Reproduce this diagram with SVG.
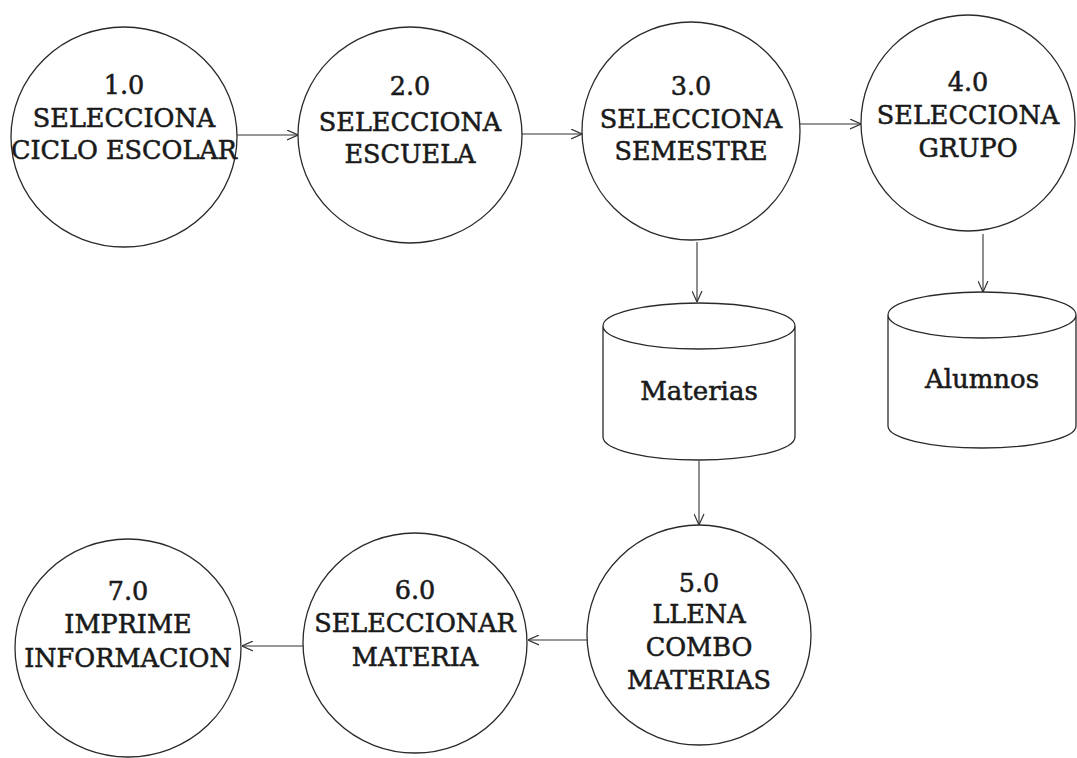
<svg xmlns="http://www.w3.org/2000/svg" width="1077" height="758" viewBox="0 0 1077 758">
<defs>
<style>
.n{fill:none;stroke:#2a2a2a;stroke-width:1.3}
.t{font-family:"DejaVu Serif","Liberation Serif",serif;font-size:25.5px;fill:#1a1a1a;stroke:#1a1a1a;stroke-width:0.55;text-anchor:middle}
.s{font-family:"DejaVu Serif","Liberation Serif",serif;font-size:26px;fill:#1a1a1a;stroke:#1a1a1a;stroke-width:0.55;text-anchor:middle}
.c{fill:none;stroke:#333;stroke-width:1.1}
</style>
<marker id="a" viewBox="0 0 10 10" refX="10" refY="5" markerWidth="11" markerHeight="11" markerUnits="userSpaceOnUse" orient="auto">
<path d="M0,0.5 L10,5 L0,9.5" fill="none" stroke="#333" stroke-width="1.1"/>
</marker>
</defs>
<rect width="1077" height="758" fill="#ffffff"/>
<g id="connectors">
<line class="c" x1="237" y1="135" x2="298" y2="135" marker-end="url(#a)"/>
<line class="c" x1="522" y1="134" x2="582" y2="134" marker-end="url(#a)"/>
<line class="c" x1="800" y1="124" x2="861" y2="124" marker-end="url(#a)"/>
<line class="c" x1="697" y1="242" x2="697" y2="302" marker-end="url(#a)"/>
<line class="c" x1="983" y1="234" x2="983" y2="292" marker-end="url(#a)"/>
<line class="c" x1="699" y1="461" x2="699" y2="525" marker-end="url(#a)"/>
<line class="c" x1="587" y1="640" x2="528" y2="640" marker-end="url(#a)"/>
<line class="c" x1="303" y1="646" x2="242" y2="646" marker-end="url(#a)"/>
</g>
<g id="p1">
<ellipse class="n" cx="124" cy="137" rx="113" ry="110"/>
<text class="t" x="124" y="94">1.0</text>
<text class="t" x="124" y="127">SELECCIONA</text>
<text class="t" x="124" y="159">CICLO ESCOLAR</text>
</g>
<g id="p2">
<ellipse class="n" cx="410" cy="135" rx="112" ry="108"/>
<text class="t" x="410" y="95">2.0</text>
<text class="t" x="410" y="131">SELECCIONA</text>
<text class="t" x="410" y="163">ESCUELA</text>
</g>
<g id="p3">
<ellipse class="n" cx="691" cy="131" rx="109" ry="109"/>
<text class="t" x="691" y="95">3.0</text>
<text class="t" x="691" y="128">SELECCIONA</text>
<text class="t" x="691" y="160">SEMESTRE</text>
</g>
<g id="p4">
<ellipse class="n" cx="968" cy="123" rx="107" ry="108"/>
<text class="t" x="968" y="91">4.0</text>
<text class="t" x="968" y="124">SELECCIONA</text>
<text class="t" x="968" y="157">GRUPO</text>
</g>
<g id="materias">
<path class="n" d="M603,326 A96,23 0 0,1 795,326 A96,23 0 0,1 603,326 Z M603,326 L603,437 A96,23 0 0,0 795,437 L795,326"/>
<text class="s" x="699" y="400">Materias</text>
</g>
<g id="alumnos">
<path class="n" d="M888,315 A94,23 0 0,1 1076,315 A94,23 0 0,1 888,315 Z M888,315 L888,426 A94,22 0 0,0 1076,426 L1076,315"/>
<text class="s" x="982" y="388">Alumnos</text>
</g>
<g id="p5">
<ellipse class="n" cx="699" cy="635" rx="112" ry="110"/>
<text class="t" x="699" y="592">5.0</text>
<text class="t" x="699" y="623">LLENA</text>
<text class="t" x="699" y="656">COMBO</text>
<text class="t" x="699" y="689">MATERIAS</text>
</g>
<g id="p6">
<ellipse class="n" cx="415" cy="643" rx="112" ry="110"/>
<text class="t" x="415" y="599">6.0</text>
<text class="t" x="415" y="632">SELECCIONAR</text>
<text class="t" x="415" y="666">MATERIA</text>
</g>
<g id="p7">
<ellipse class="n" cx="128" cy="648" rx="113" ry="109"/>
<text class="t" x="128" y="600">7.0</text>
<text class="t" x="128" y="633">IMPRIME</text>
<text class="t" x="128" y="667">INFORMACION</text>
</g>
</svg>
